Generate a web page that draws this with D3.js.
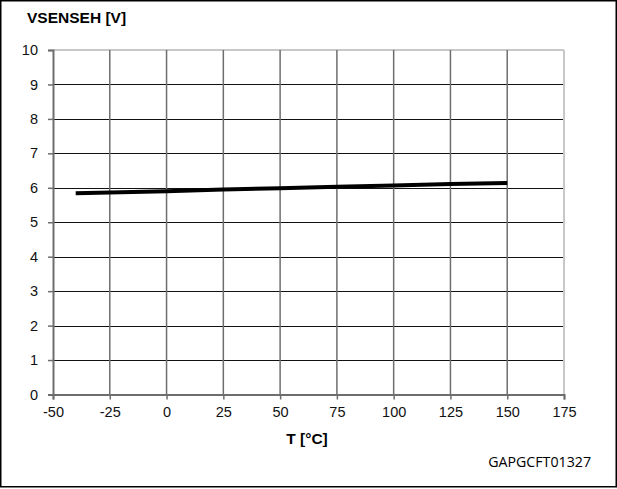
<!DOCTYPE html>
<html>
<head>
<meta charset="utf-8">
<script src="https://cdn.jsdelivr.net/npm/d3@7"></script>
<style>
  body { margin: 0; background: #fff; }
  text { font-family: Arial, "Liberation Sans", sans-serif; }
</style>
</head>
<body>
<div id="chartDiv"></div>
<script>
// chart values
var temps = [-40, -25, 0, 25, 50, 75, 100, 125, 150];
var vsenseh = [5.84, 5.86, 5.9, 5.95, 5.99, 6.03, 6.07, 6.11, 6.14];
var xTicks = [-50, -25, 0, 25, 50, 75, 100, 125, 150, 175];
var yTicks = [0, 1, 2, 3, 4, 5, 6, 7, 8, 9, 10];

var W = 617, H = 489;
var margin = {top: 50, right: 53, bottom: 94.5, left: 53};

var svg = d3.select("#chartDiv").append("svg")
    .attr("width", W)
    .attr("height", H);

var x_scale = d3.scaleLinear().domain([-50, 175]).range([margin.left, W - margin.right]);
var y_scale = d3.scaleLinear().domain([0, 10]).range([H - margin.bottom, margin.top]);

// outer frame
svg.append("rect")
    .attr("x", 0.75).attr("y", 0.75)
    .attr("width", 615.5).attr("height", 486)
    .attr("fill", "white")
    .style("stroke", "black")
    .style("stroke-width", 1.5);

var chart_svg = svg.append("g");

// horizontal grid
chart_svg.selectAll(".hgrid").data(yTicks.filter(function(d){ return d > 0 && d < 10; }))
  .enter().append("line").attr("class", "hgrid")
    .attr("x1", x_scale(-50)).attr("x2", x_scale(175))
    .attr("y1", function(d){ return Math.round(y_scale(d)) + 0.5; })
    .attr("y2", function(d){ return Math.round(y_scale(d)) + 0.5; })
    .style("stroke", "#111").style("stroke-width", 1);

// top edge of plot
chart_svg.append("line")
    .attr("x1", x_scale(-50)).attr("x2", x_scale(175))
    .attr("y1", y_scale(10)).attr("y2", y_scale(10))
    .style("stroke", "#c8c8c8").style("stroke-width", 2);

// vertical grid
chart_svg.selectAll(".vgrid").data(xTicks.filter(function(d){ return d > -50 && d < 175; }))
  .enter().append("line").attr("class", "vgrid")
    .attr("x1", function(d){ return x_scale(d); })
    .attr("x2", function(d){ return x_scale(d); })
    .attr("y1", y_scale(10)).attr("y2", y_scale(0))
    .style("stroke", "#6e6e6e").style("stroke-width", 1.5);

// right edge of plot
chart_svg.append("line")
    .attr("x1", x_scale(175)).attr("x2", x_scale(175))
    .attr("y1", y_scale(10)).attr("y2", y_scale(0))
    .style("stroke", "#c8c8c8").style("stroke-width", 2);

// axes
var plain = function(d){ return String(d); };
var xAxis = d3.axisBottom(x_scale).tickValues(xTicks).tickFormat(plain).tickSize(5).tickPadding(7);
var yAxis = d3.axisLeft(y_scale).tickValues(yTicks).tickFormat(plain).tickSize(5).tickPadding(10);

var gx = chart_svg.append("g")
    .attr("transform", "translate(0," + y_scale(0) + ")")
    .call(xAxis);
var gy = chart_svg.append("g")
    .attr("transform", "translate(" + x_scale(-50) + ",0)")
    .call(yAxis);

[gx, gy].forEach(function(g){
  g.select(".domain").style("stroke", "#6e6e6e").style("stroke-width", 2);
  g.selectAll(".tick line").style("stroke", "#6e6e6e").style("stroke-width", 1.5);
  g.selectAll(".tick text")
    .style("font-family", "Arial, 'Liberation Sans', sans-serif")
    .style("font-size", "14.5px")
    .attr("fill", "#111");
});

// data line
var line = d3.line()
    .x(function(d, i){ return x_scale(temps[i]); })
    .y(function(d){ return y_scale(d); });

chart_svg.append("path")
    .datum(vsenseh)
    .attr("d", line)
    .attr("fill", "none")
    .style("stroke", "black")
    .style("stroke-width", 4);

// titles
chart_svg.append("text")
    .text("VSENSEH [V]")
    .attr("x", 27).attr("y", 23)
    .style("font-weight", "bold")
    .style("font-size", "15.5px");

chart_svg.append("text")
    .text("T [°C]")
    .attr("x", 307).attr("y", 444)
    .attr("text-anchor", "middle")
    .style("font-weight", "bold")
    .style("font-size", "15.5px");

chart_svg.append("text")
    .text("GAPGCFT01327")
    .attr("x", 591).attr("y", 467)
    .attr("text-anchor", "end")
    .style("font-family", "'Open Sans', sans-serif")
    .style("font-size", "14.2px");
</script>
</body>
</html>
